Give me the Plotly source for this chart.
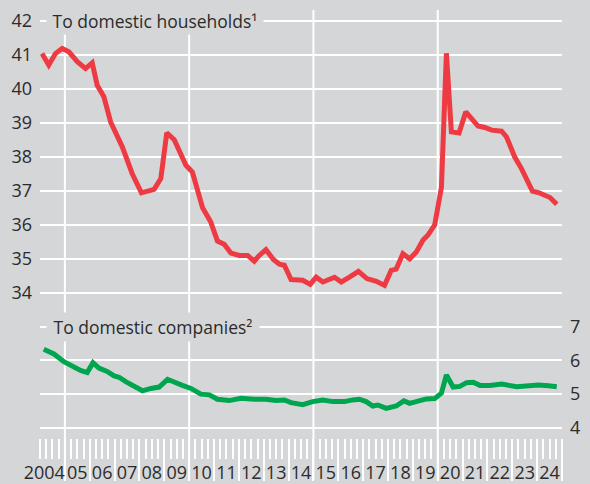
import plotly.graph_objects as go

# lending rates, two panels
hh_x = [2004.08, 2004.35, 2004.62, 2004.89, 2005.16, 2005.5, 2005.83, 2006.1, 2006.3, 2006.57,
        2006.84, 2007.31, 2007.71, 2008.08, 2008.59, 2008.86, 2009.1, 2009.4, 2009.87, 2010.13,
        2010.54, 2010.87, 2011.14, 2011.41, 2011.68, 2012.02, 2012.35, 2012.62, 2012.82, 2013.09,
        2013.39, 2013.63, 2013.83, 2014.1, 2014.57, 2014.87, 2015.11, 2015.38, 2015.85, 2016.12,
        2016.45, 2016.81, 2017.15, 2017.53, 2017.86, 2018.13, 2018.33, 2018.6, 2018.87, 2019.14,
        2019.41, 2019.61, 2019.88, 2020.15, 2020.35, 2020.55, 2020.86, 2021.13, 2021.62, 2021.89,
        2022.17, 2022.57, 2022.77, 2023.1, 2023.37, 2023.81, 2024.08, 2024.35, 2024.52, 2024.79]
hh_y = [41.03, 40.69, 41.03, 41.18, 41.08, 40.79, 40.59, 40.76, 40.1, 39.76,
        39.02, 38.29, 37.5, 36.94, 37.04, 37.36, 38.7, 38.5, 37.75, 37.55,
        36.5, 36.08, 35.52, 35.43, 35.17, 35.1, 35.1, 34.93, 35.1, 35.27,
        34.98, 34.84, 34.81, 34.39, 34.37, 34.25, 34.46, 34.32, 34.46, 34.32,
        34.46, 34.63, 34.42, 34.34, 34.22, 34.66, 34.7, 35.15, 35.0, 35.2,
        35.55, 35.7, 36.0, 37.1, 41.04, 38.73, 38.7, 39.32, 38.9, 38.86,
        38.78, 38.75, 38.58, 37.99, 37.65, 36.99, 36.94, 36.84, 36.8, 36.6]

co_x = [2004.15, 2004.56, 2004.96, 2005.36, 2005.63, 2005.9, 2006.13, 2006.37, 2006.7, 2006.98,
        2007.18, 2007.45, 2007.78, 2008.12, 2008.46, 2008.79, 2009.13, 2009.4, 2009.73, 2010.07,
        2010.47, 2010.81, 2011.14, 2011.61, 2012.08, 2012.62, 2013.09, 2013.49, 2013.83, 2014.1,
        2014.57, 2014.97, 2015.38, 2015.78, 2016.25, 2016.58, 2016.85, 2017.12, 2017.39, 2017.59,
        2017.93, 2018.33, 2018.64, 2018.87, 2019.2, 2019.54, 2019.88, 2020.15, 2020.35, 2020.62,
        2020.89, 2021.16, 2021.43, 2021.7, 2022.1, 2022.57, 2023.18, 2023.58, 2024.05, 2024.46,
        2024.79]
co_y = [6.33, 6.19, 5.96, 5.81, 5.7, 5.64, 5.93, 5.77, 5.67, 5.54,
        5.5, 5.37, 5.24, 5.1, 5.17, 5.21, 5.44, 5.35, 5.26, 5.17,
        5.0, 4.98, 4.85, 4.81, 4.88, 4.85, 4.85, 4.81, 4.83, 4.75,
        4.69, 4.78, 4.83, 4.78, 4.78, 4.83, 4.85, 4.78, 4.65, 4.68,
        4.58, 4.65, 4.8, 4.73, 4.81, 4.86, 4.87, 5.03, 5.57, 5.21,
        5.23, 5.34, 5.35, 5.26, 5.26, 5.3, 5.22, 5.26, 5.27, 5.25,
        5.22]

years = list(range(2004, 2025))
year_labels = ["2004"] + [str(y)[2:] for y in years[1:]]
hh_ticks = list(range(34, 43))
co_ticks = [4, 5, 6, 7]

BG = "#d5d6d8"
TXT = "#2b2b2b"
FONT = "Open Sans"

fig = go.Figure()
fig.add_trace(go.Scatter(x=hh_x, y=hh_y, mode="lines", line=dict(color="#ee3a43", width=5),
                         xaxis="x", yaxis="y", showlegend=False))
fig.add_trace(go.Scatter(x=co_x, y=co_y, mode="lines", line=dict(color="#00a54f", width=5),
                         xaxis="x", yaxis="y2", showlegend=False))
# invisible trace so the label axis is drawn
fig.add_trace(go.Scatter(x=[2004, 2025], y=[4, 4], mode="lines", line=dict(width=0),
                         xaxis="x2", yaxis="y2", showlegend=False, hoverinfo="skip"))

# label positions: 2004 sits left, the rest centred in their year
label_pos = [2004.17] + [y + 0.5 for y in years[1:]]

fig.update_layout(
    width=590, height=484,
    margin=dict(l=40, r=28, t=10, b=46),
    paper_bgcolor=BG, plot_bgcolor=BG,
    font=dict(family=FONT, size=17, color=TXT),
    xaxis=dict(range=[2003.999, 2025.001], anchor="y2", showgrid=False, zeroline=False,
               automargin=False,
               tickmode="array", tickvals=list(range(2005, 2026)), showticklabels=False,
               ticks="outside", ticklen=42, tickwidth=2, tickcolor="white",
               minor=dict(tickmode="array", tickvals=[2004 + q / 4 for q in range(0, 84)],
                          ticks="outside", ticklen=20, tickwidth=2, tickcolor="white")),
    xaxis2=dict(range=[2003.999, 2025.001], overlaying="x", anchor="y2", showgrid=False,
                zeroline=False, automargin=False, tickmode="array", tickvals=label_pos,
                ticktext=year_labels, ticks="", ticklabelstandoff=22,
                tickfont=dict(size=18, color=TXT)),
    yaxis=dict(domain=[0.3224, 1], range=[33.79, 42.31], tickvals=hh_ticks,
               gridcolor="white", gridwidth=2, zeroline=False, ticks="", automargin=False,
               ticklabelstandoff=7, tickfont=dict(size=18, color=TXT)),
    yaxis2=dict(domain=[0, 0.3107], range=[3.704, 7.636], tickvals=co_ticks, side="right",
                anchor="x", gridcolor="white", gridwidth=2, zeroline=False, ticks="",
                automargin=False, ticklabelstandoff=7, tickfont=dict(size=18, color=TXT)),
)

for yr in [2005, 2010, 2015, 2020]:
    fig.add_shape(type="line", xref="x", yref="paper", x0=yr, x1=yr, y0=-0.098, y1=1,
                  line=dict(color="white", width=2), layer="below")

fig.add_annotation(text="\u00a0To domestic households¹\u00a0", xref="paper", yref="y",
                   x=6 / 522, y=42, xanchor="left", yanchor="middle", showarrow=False,
                   bgcolor=BG, borderpad=1, font=dict(size=17.5, color=TXT))
fig.add_annotation(text="\u00a0To domestic companies²\u00a0", xref="paper", yref="y2",
                   x=6 / 522, y=7, xanchor="left", yanchor="middle", showarrow=False,
                   bgcolor=BG, borderpad=2, font=dict(size=17.5, color=TXT))

fig.write_html("out.html", config={"displayModeBar": False},
               post_script="document.body.style.margin='0';"
                           "document.body.style.background='#d5d6d8';")
